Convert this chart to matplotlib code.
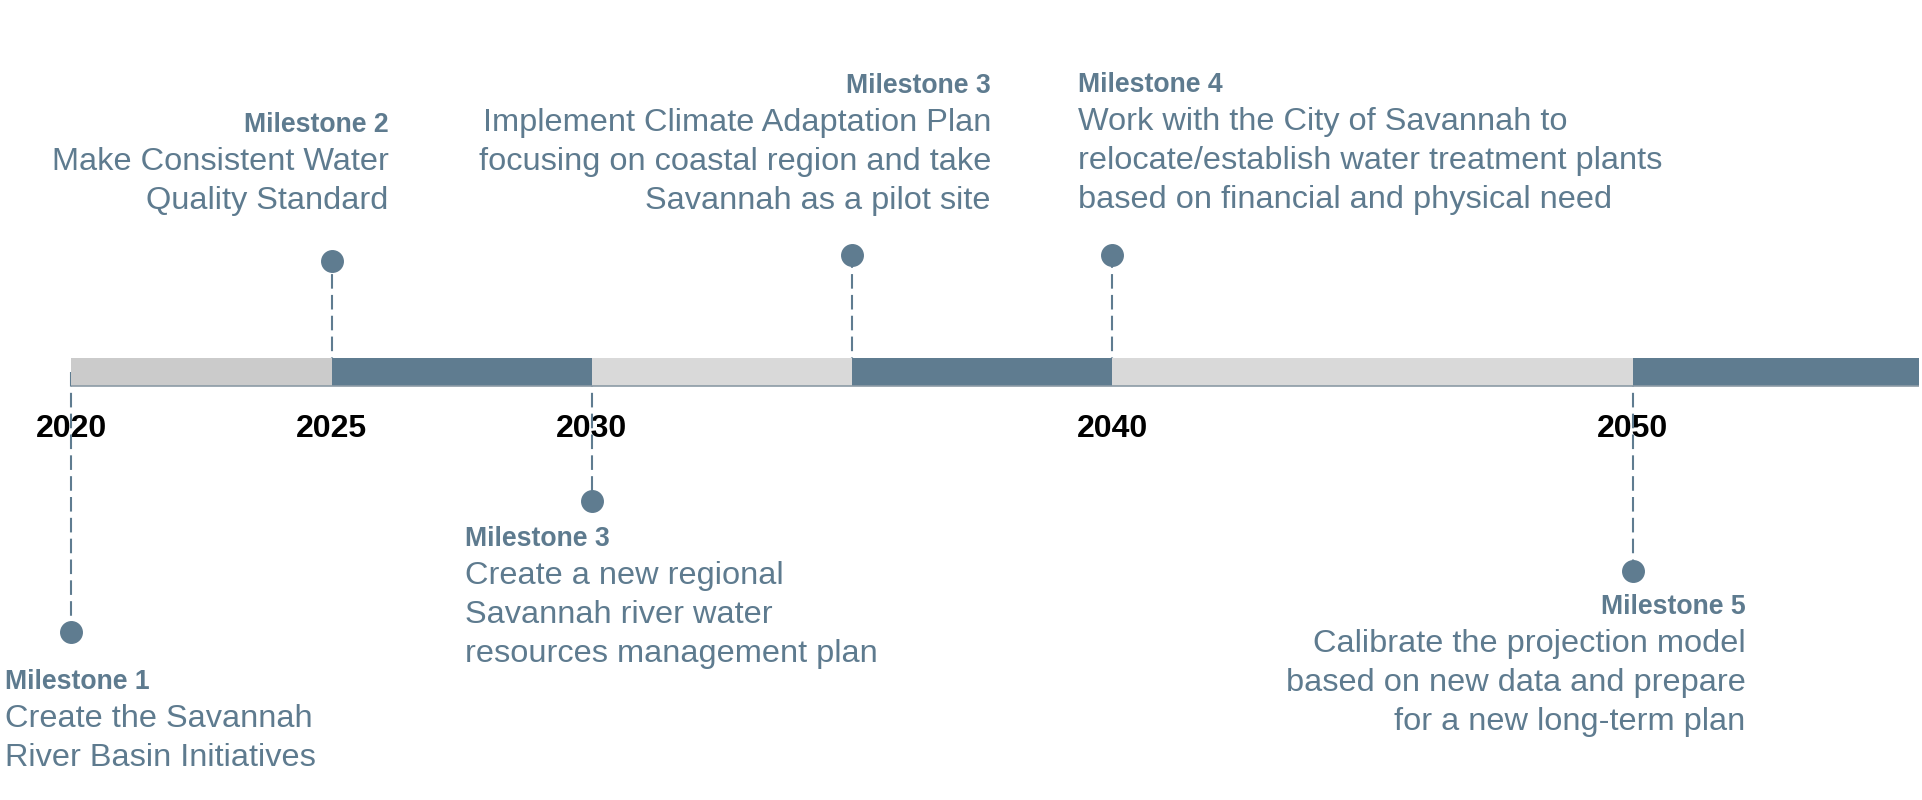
import matplotlib
matplotlib.use("Agg")
import matplotlib.pyplot as plt
import matplotlib.transforms as mtransforms

plt.rcParams['font.family'] = ['Liberation Sans', 'DejaVu Sans']

# -------------------------------------------------
# Data
# -------------------------------------------------
seg_start = [2020, 2025, 2030, 2035, 2040, 2050]
seg_end = [2025, 2030, 2035, 2040, 2050, 2055.5]
seg_colors = ['#cbcbcb', '#5f7c90', '#d9d9d9', '#5f7c90', '#d9d9d9', '#5f7c90']

tick_years = [2020, 2025, 2030, 2040, 2050]

ms_years = [2020, 2025, 2030, 2035, 2040, 2050]
ms_titles = ['Milestone 1', 'Milestone 2', 'Milestone 3',
             'Milestone 3', 'Milestone 4', 'Milestone 5']
ms_texts = [
    'Create the Savannah\nRiver Basin Initiatives',
    'Make Consistent Water\nQuality Standard',
    'Create a new regional\nSavannah river water\nresources management plan',
    'Implement Climate Adaptation Plan\nfocusing on coastal region and take\nSavannah as a pilot site',
    'Work with the City of Savannah to\nrelocate/establish water treatment plants\nbased on financial and physical need',
    'Calibrate the projection model\nbased on new data and prepare\nfor a new long-term plan',
]

# -------------------------------------------------
# Layout (pixel rows, y grows downward)
# -------------------------------------------------
bar_y, bar_h = 372, 28
dot_y = [632, 261, 501, 255, 255, 571]
title_base = [689, 132, 546, 93, 92, 614]
text_dx = [-66, 57, -127, 139, -34, 113]   # pixel offset from the dot
text_ha = ['left', 'right', 'left', 'right', 'left', 'right']

blue = '#5f7c90'
txt_col = '#5e7b8f'

fig = plt.figure(figsize=(19.22, 8), dpi=100)
ax = fig.add_axes([0, 0, 1, 1])
ax.set_xlim(2018.629, 2055.562)
ax.set_ylim(800, 0)
ax.axis('off')

# timeline bar
ax.barh(bar_y, [e - s for s, e in zip(seg_start, seg_end)], left=seg_start,
        height=bar_h, color=seg_colors, zorder=2)
ax.hlines(bar_y + bar_h / 2, seg_start[0], seg_end[-1], color='#8c9ba6',
          lw=1.2, zorder=3)

# year labels
for yr in tick_years:
    ax.text(yr, 429, str(yr), ha='center', va='center', fontsize=23,
            fontweight='bold', color='black', zorder=1)

# milestones
for i, yr in enumerate(ms_years):
    ax.plot([yr, yr], [bar_y, dot_y[i]], color=blue, lw=1.5,
            ls=(0, (7, 3)), zorder=1)
    ax.plot(yr, dot_y[i], 'o', ms=15.5, color=blue, zorder=4)

    tr = mtransforms.offset_copy(ax.transData, fig=fig, x=text_dx[i], y=0,
                                 units='dots')
    ax.text(yr, title_base[i], ms_titles[i], transform=tr, ha=text_ha[i],
            va='baseline', fontsize=19.2, fontweight='bold', color=txt_col)
    for j, line in enumerate(ms_texts[i].split('\n')):
        ax.text(yr, title_base[i] + 38 + 39 * j, line, transform=tr,
                ha=text_ha[i], va='baseline', fontsize=23.4, color=txt_col)

fig.savefig('out.png', dpi=100)
